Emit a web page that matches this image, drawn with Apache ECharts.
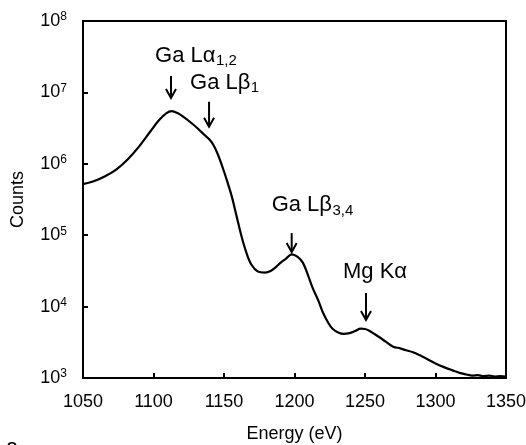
<!DOCTYPE html>
<html>
<head>
<meta charset="utf-8">
<script src="https://cdn.jsdelivr.net/npm/echarts@6/dist/echarts.min.js"></script>
<style>
html,body{margin:0;padding:0;background:#fff;}
#chart{width:526px;height:445px;}
</style>
</head>
<body>
<div id="chart"></div>
<script>
// ---- data ----
const energy = [1050,1058,1066,1074,1082,1090,1098,1104,1109,1113,1117,1121,1126,1131,1136,1140,1142.5,1145,1147,1150,1152,1155.5,1159,1162.5,1166,1169.5,1174,1179,1183,1187,1190,1194,1198,1202,1206,1210,1213,1217,1220,1224,1227,1231,1235,1239,1243,1247,1250,1253,1257,1260,1265,1270,1275,1279,1284,1289,1294,1300,1306,1312,1317,1322,1326,1330,1334,1338,1342,1346,1350];
const counts = [5.2e5,5.74e5,6.75e5,8.45e5,1.17e6,1.77e6,2.88e6,4.1e6,5.1e6,5.45e6,5.14e6,4.57e6,3.85e6,3.17e6,2.55e6,2.15e6,1.83e6,1.45e6,1.15e6,7.8e5,5.9e5,3.5e5,1.82e5,9.5e4,5.6e4,3.85e4,3.1e4,3.0e4,3.15e4,3.6e4,4.1e4,4.7e4,5.4e4,5.0e4,4.1e4,2.6e4,1.8e4,1.2e4,8.4e3,5.9e3,4.9e3,4.35e3,4.15e3,4.25e3,4.55e3,4.9e3,4.85e3,4.6e3,4.1e3,3.75e3,3.2e3,2.75e3,2.6e3,2.45e3,2.3e3,2.08e3,1.85e3,1.6e3,1.42e3,1.28e3,1.18e3,1.12e3,1.08e3,1.1e3,1.06e3,1.08e3,1.05e3,1.06e3,1.05e3];
const xTicks = [1050,1100,1150,1200,1250,1300,1350];
const yExponents = [3,4,5,6,7,8];

// annotations: label main text, subscript, arrow energy, arrow top / tip counts, label anchor (left, baseline)
const annMain = ['Ga L\u03b1','Ga L\u03b2','Ga L\u03b2','Mg K\u03b1'];
const annSub = ['1,2','1','3,4',''];
const annEnergy = [1112.4,1139.4,1198,1250.7];
const annArrowTop = [1.7e7,7.4e6,1.07e5,1.55e4];
const annArrowTip = [8.35e6,3.3e6,5.8e4,6.5e3];
const annLabelE = [1101.1,1125.9,1183.8,1234.4];
const annLabelC = [2.56e7,1.06e7,2.05e5,2.41e4];

const FONT = '"Liberation Sans", Arial, Helvetica, sans-serif';
const chart = echarts.init(document.getElementById('chart'), null, {renderer:'canvas'});
const seriesData = energy.map((e,i)=>[e,counts[i]]);

chart.setOption({
  animation:false,
  backgroundColor:'#fff',
  grid:{left:83,right:20,top:21,bottom:67,outerBoundsMode:'none',containLabel:false,show:true,borderColor:'#000',borderWidth:2,backgroundColor:'transparent'},
  xAxis:{
    type:'value',min:xTicks[0],max:xTicks[xTicks.length-1],interval:50,
    name:'Energy (eV)',nameLocation:'middle',nameGap:47,
    nameTextStyle:{fontSize:18,color:'#000',fontFamily:FONT},
    axisLine:{lineStyle:{color:'#000',width:2}},
    axisTick:{inside:true,length:5,lineStyle:{color:'#000',width:2}},
    axisLabel:{fontSize:18,color:'#000',margin:15,fontFamily:FONT,formatter:function(v){return String(v);}},
    splitLine:{show:false}
  },
  yAxis:{
    type:'log',logBase:10,min:Math.pow(10,yExponents[0]),max:Math.pow(10,yExponents[yExponents.length-1]),
    name:'Counts',nameLocation:'middle',nameGap:56,
    nameTextStyle:{fontSize:18,color:'#000',fontFamily:FONT},
    axisLine:{lineStyle:{color:'#000',width:2}},
    axisTick:{inside:true,length:5,lineStyle:{color:'#000',width:2}},
    axisLabel:{
      margin:16,color:'#000',
      formatter:function(v){const e=Math.round(Math.log10(v));return '{b|10}{s|'+e+'}';},
      rich:{
        b:{fontSize:18,fontFamily:FONT,color:'#000',lineHeight:20,verticalAlign:'middle'},
        s:{fontSize:12,fontFamily:FONT,color:'#000',lineHeight:12,verticalAlign:'top',padding:[0,0,0,0]}
      }
    },
    splitLine:{show:false},minorTick:{show:false}
  },
  series:[{
    type:'line',data:seriesData,showSymbol:false,smooth:0.35,
    lineStyle:{color:'#000',width:2.2},z:3
  }]
});

function measure(text,size){
  const c=document.createElement('canvas').getContext('2d');
  c.font=size+'px '+FONT;
  return c.measureText(text).width;
}

function buildAnnotations(){
  const els=[];
  const mainSize=22, subSize=15;
  for(let i=0;i<annMain.length;i++){
    const top=chart.convertToPixel({gridIndex:0},[annEnergy[i],annArrowTop[i]]);
    const tip=chart.convertToPixel({gridIndex:0},[annEnergy[i],annArrowTip[i]]);
    els.push({type:'line',shape:{x1:top[0],y1:top[1],x2:tip[0],y2:tip[1]-1},style:{stroke:'#000',lineWidth:2},z:10});
    els.push({type:'polyline',shape:{points:[[tip[0]-5,tip[1]-9],[tip[0],tip[1]],[tip[0]+5,tip[1]-9]]},style:{stroke:'#000',lineWidth:2,fill:null},z:10});
    const lab=chart.convertToPixel({gridIndex:0},[annLabelE[i],annLabelC[i]]);
    const wMain=measure(annMain[i],mainSize);
    els.push({type:'text',x:lab[0],y:lab[1]-0.35*mainSize,style:{text:annMain[i],fontSize:mainSize,fontFamily:FONT,fill:'#000',align:'left',verticalAlign:'middle'},z:10});
    if(annSub[i]){
      els.push({type:'text',x:lab[0]+wMain+0.5,y:lab[1]+3-0.35*subSize,style:{text:annSub[i],fontSize:subSize,fontFamily:FONT,fill:'#000',align:'left',verticalAlign:'middle'},z:10});
    }
  }
  els.push({type:'text',x:6,y:437,style:{text:'a',fontSize:22,fontFamily:FONT,fill:'#000',align:'left',verticalAlign:'top'},z:10});
  chart.setOption({graphic:{elements:els}});
}
buildAnnotations();
</script>
</body>
</html>
